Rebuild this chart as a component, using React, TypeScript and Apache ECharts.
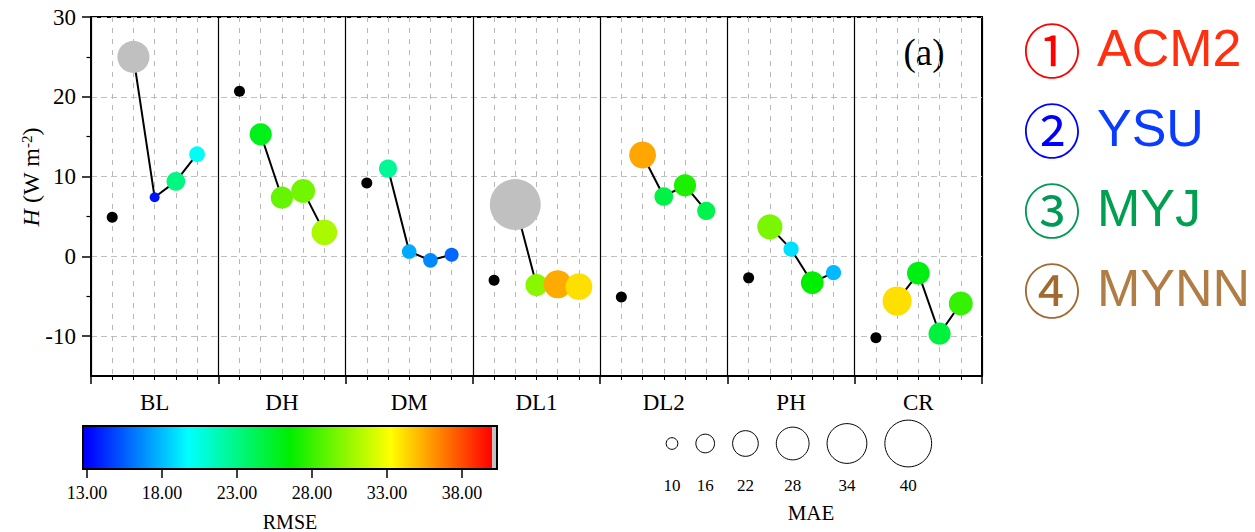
import React, { useEffect, useRef } from "react";
import * as echarts from "echarts";

// ---------------- data ----------------
const groups = ["BL", "DH", "DM", "DL1", "DL2", "PH", "CR"];
const schemes = ["ACM2", "YSU", "MYJ", "MYNN"];

// sensible heat flux H (W m-2)
const obsH = [4.9, 20.7, 9.2, -3.0, -5.1, -2.7, -10.2];
const acm2H = [25.0, 15.3, 11.0, 6.5, 12.7, 3.7, -5.6];
const ysuH = [7.4, 7.35, 0.6, -3.6, 7.5, 0.9, -2.1];
const myjH = [9.4, 8.2, -0.5, -3.5, 8.9, -3.3, -9.7];
const mynnH = [12.8, 3.0, 0.2, -3.8, 5.7, -2.05, -5.9];

// RMSE (colour)
const acm2RMSE = [41.0, 25.8, 22.5, 43.0, 35.6, 29.7, 34.1];
const ysuRMSE = [13.5, 29.2, 17.5, 30.1, 24.7, 18.9, 26.0];
const myjRMSE = [23.1, 29.5, 16.6, 35.5, 27.2, 26.5, 24.9];
const mynnRMSE = [20.0, 31.0, 15.7, 34.1, 24.5, 17.9, 27.9];

// MAE (size)
const acm2MAE = [27.4, 19.0, 15.5, 43.5, 23.0, 21.5, 25.0];
const ysuMAE = [8.5, 19.0, 12.5, 19.0, 16.0, 13.0, 19.5];
const myjMAE = [16.0, 20.5, 12.5, 24.0, 19.0, 19.5, 19.0];
const mynnMAE = [13.5, 22.0, 12.0, 23.0, 15.5, 13.0, 20.5];

const yTicks = [-10, 0, 10, 20, 30];
const yMinorTicks = [-5, 5, 15, 25];

const rmseTicks = [13, 18, 23, 28, 33, 38];
const rmseStops = [13, 19.75, 26.5, 33.25, 40];
const rmseColors = ["#0000ff", "#00ffff", "#00ee00", "#ffff00", "#ff0000"];
const rmseBarMin = 12.73;
const rmseBarMax = 40.33;
const rmseOverColor = "#c0c0c0";

const maeLegend = [10, 16, 22, 28, 34, 40];

const legendCircle = ["①", "②", "③", "④"];
const legendCircleColors = ["#ff0000", "#0000ff", "#009955", "#a06a30"];
const legendTextColors = ["#ff3010", "#0a3cff", "#00a050", "#b07d45"];

// ---------------- helpers ----------------
const SERIF = "'Liberation Serif', 'Times New Roman', serif";
const SANS = "'Liberation Sans', Arial, sans-serif";
const maeSize = (m: number) => 1.17 * m;
const groupWidth = 6;

export default function App() {
  const ref = useRef<HTMLDivElement>(null);

  useEffect(() => {
    const chart = echarts.init(ref.current!, null, { renderer: "svg" });

    const schemeH = [acm2H, ysuH, myjH, mynnH];
    const schemeR = [acm2RMSE, ysuRMSE, myjRMSE, mynnRMSE];
    const schemeM = [acm2MAE, ysuMAE, myjMAE, mynnMAE];

    const lineSeries = groups.map((_, g) => ({
      type: "line",
      xAxisIndex: 0,
      yAxisIndex: 0,
      data: schemes.map((_, s) => [g * groupWidth + 2 + s, schemeH[s][g]]),
      showSymbol: false,
      symbol: "none",
      lineStyle: { color: "#000", width: 2 },
      z: 3,
      silent: true,
    }));

    const obsData = groups.map((_, g) => [g * groupWidth + 1, obsH[g]]);
    const modelData: number[][] = [];
    groups.forEach((_, g) => {
      schemes.forEach((_, s) => {
        modelData.push([g * groupWidth + 2 + s, schemeH[s][g], schemeR[s][g], schemeM[s][g]]);
      });
    });

    const modelIdx = lineSeries.length + 1;

    // MAE size legend layout
    const legendGraphics: any[] = [];
    let cx = 672;
    const cy = 443.5;
    maeLegend.forEach((m, i) => {
      const r = maeSize(m) / 2;
      if (i > 0) cx += maeSize(maeLegend[i - 1]) / 2 + 18 + r;
      legendGraphics.push({
        type: "circle",
        shape: { cx, cy, r },
        style: { fill: "none", stroke: "#000", lineWidth: 1 },
      });
      legendGraphics.push({
        type: "text",
        x: cx,
        y: 485,
        style: {
          text: String(m),
          font: `17px ${SERIF}`,
          fill: "#000",
          align: "center",
          verticalAlign: "middle",
        },
      });
    });
    legendGraphics.push({
      type: "text",
      x: 811,
      y: 513,
      style: {
        text: "MAE",
        font: `21px ${SERIF}`,
        fill: "#000",
        align: "center",
        verticalAlign: "middle",
      },
    });

    // scheme legend
    schemes.forEach((name, i) => {
      legendGraphics.push({
        type: "text",
        x: 1023,
        y: 48 + i * 80,
        style: {
          text: `{c|${legendCircle[i]}}{t|${name}}`,
          verticalAlign: "middle",
          align: "left",
          rich: {
            c: {
              fontFamily: "'Noto Sans CJK SC', 'DejaVu Sans', sans-serif",
              fontSize: 58,
              fill: legendCircleColors[i],
              padding: [0, 16, 0, 0],
            },
            t: {
              fontFamily: SANS,
              fontSize: 52,
              fill: legendTextColors[i],
            },
          },
        },
      });
    });

    // y-axis title
    legendGraphics.push({
      type: "text",
      x: 31,
      y: 177,
      rotation: Math.PI / 2,
      style: {
        text: "{i|H}{n| (W m}{s|-2}{n|)}",
        align: "center",
        verticalAlign: "middle",
        rich: {
          i: { fontFamily: SERIF, fontSize: 24, fontStyle: "italic", fill: "#000" },
          n: { fontFamily: SERIF, fontSize: 24, fill: "#000" },
          s: { fontFamily: SERIF, fontSize: 15, fill: "#000", verticalAlign: "top", padding: [0, 0, 6, 0] },
        },
      },
    });

    // panel label
    legendGraphics.push({
      type: "text",
      x: 924,
      y: 52,
      style: {
        text: "(a)",
        font: `37px ${SERIF}`,
        fill: "#000",
        align: "center",
        verticalAlign: "middle",
      },
    });

    const option: any = {
      animation: false,
      backgroundColor: "#fff",
      textStyle: { fontFamily: SERIF },
      grid: [
        {
          left: 91,
          top: 17,
          width: 891,
          height: 359,
          show: true,
          borderColor: "#000",
          borderWidth: 2,
          backgroundColor: "transparent",
          containLabel: false,
          outerBoundsMode: "none",
        },
        {
          left: 83,
          top: 426,
          width: 414,
          height: 43,
          show: false,
          containLabel: false,
          outerBoundsMode: "none",
        },
      ],
      xAxis: [
        {
          type: "value",
          gridIndex: 0,
          position: "bottom",
          min: 0,
          max: groups.length * groupWidth,
          interval: groupWidth,
          axisLine: { show: true, onZero: false, lineStyle: { color: "#000", width: 2 } },
          axisTick: { show: true, inside: false, length: 8, lineStyle: { color: "#000", width: 1.5 } },
          minorTick: { show: true, splitNumber: groupWidth, length: 4, lineStyle: { color: "#000", width: 1 } },
          axisLabel: { show: false },
          splitLine: { show: true, lineStyle: { color: "#000", width: 1.2 } },
          minorSplitLine: { show: true, lineStyle: { color: "#b8b8b8", width: 1, type: [5, 6] } },
        },
        {
          type: "category",
          gridIndex: 0,
          position: "bottom",
          data: groups,
          boundaryGap: true,
          axisLine: { show: false, onZero: false },
          axisTick: { show: false },
          splitLine: { show: false },
          axisLabel: { show: true, fontFamily: SERIF, fontSize: 23, color: "#000", margin: 15 },
        },
        {
          type: "value",
          gridIndex: 1,
          position: "bottom",
          min: rmseBarMin,
          max: rmseBarMax,
          axisLine: { show: false, onZero: false },
          axisTick: {
            show: true,
            inside: false,
            length: 9,
            customValues: rmseTicks,
            lineStyle: { color: "#000", width: 1.5 },
          },
          axisLabel: {
            show: true,
            customValues: rmseTicks,
            formatter: (v: number) => v.toFixed(2),
            fontFamily: SERIF,
            fontSize: 18,
            color: "#000",
            margin: 15,
          },
          splitLine: { show: false },
          name: "RMSE",
          nameLocation: "middle",
          nameGap: 43,
          nameMoveOverlap: false,
          nameTextStyle: { fontFamily: SERIF, fontSize: 20, color: "#000" },
        },
      ],
      yAxis: [
        {
          type: "value",
          gridIndex: 0,
          position: "left",
          min: -15,
          max: 30,
          interval: 5,
          axisLine: { show: true, onZero: false, lineStyle: { color: "#000", width: 2 } },
          axisTick: {
            show: true,
            inside: false,
            length: 9,
            customValues: yTicks,
            lineStyle: { color: "#000", width: 1.5 },
          },
          axisLabel: {
            show: true,
            customValues: yTicks,
            fontFamily: SERIF,
            fontSize: 23,
            color: "#000",
            margin: 15,
          },
          splitLine: { show: true, lineStyle: { color: "#c0c0c0", width: 1, type: [6, 4] } },
        },
        {
          type: "value",
          gridIndex: 0,
          position: "left",
          min: -15,
          max: 30,
          interval: 5,
          axisLine: { show: false, onZero: false },
          axisTick: {
            show: true,
            inside: false,
            length: 4.5,
            customValues: yMinorTicks,
            lineStyle: { color: "#000", width: 1.2 },
          },
          axisLabel: { show: false },
          splitLine: { show: false },
        },
        {
          type: "value",
          gridIndex: 1,
          min: 0,
          max: 1,
          show: false,
        },
      ],
      visualMap: [
        {
          type: "continuous",
          show: false,
          min: rmseStops[0],
          max: rmseStops[rmseStops.length - 1],
          range: [rmseStops[0], rmseStops[rmseStops.length - 1] - 0.001],
          dimension: 2,
          seriesIndex: [modelIdx],
          inRange: { color: rmseColors },
          outOfRange: { color: rmseOverColor },
        },
      ],
      series: [
        ...lineSeries,
        {
          type: "scatter",
          name: "OBS",
          xAxisIndex: 0,
          yAxisIndex: 0,
          data: obsData,
          symbol: "circle",
          symbolSize: 11,
          itemStyle: { color: "#000", opacity: 1 },
          z: 4,
          silent: true,
        },
        {
          type: "scatter",
          name: "models",
          xAxisIndex: 0,
          yAxisIndex: 0,
          data: modelData,
          symbol: "circle",
          symbolSize: (v: number[]) => maeSize(v[3]),
          itemStyle: { opacity: 1 },
          z: 5,
          silent: true,
        },
        {
          type: "custom",
          xAxisIndex: 2,
          yAxisIndex: 2,
          data: [[rmseBarMin, rmseStops[rmseStops.length - 1], rmseBarMax]],
          silent: true,
          renderItem: (params: any, api: any) => {
            const x0 = api.value(0);
            const x1 = api.value(1);
            const x2 = api.value(2);
            const pTL = api.coord([x0, 1]);
            const pMid = api.coord([x1, 0]);
            const pEnd = api.coord([x2, 0]);
            const stops = rmseStops.map((v, i) => ({
              offset: Math.max(0, Math.min(1, (v - x0) / (x1 - x0))),
              color: rmseColors[i],
            }));
            stops.unshift({ offset: 0, color: rmseColors[0] });
            const grad = new echarts.graphic.LinearGradient(0, 0, 1, 0, stops);
            return {
              type: "group",
              children: [
                {
                  type: "rect",
                  shape: { x: pTL[0], y: pTL[1], width: pMid[0] - pTL[0], height: pMid[1] - pTL[1] },
                  style: { fill: grad },
                },
                {
                  type: "rect",
                  shape: { x: pMid[0], y: pTL[1], width: pEnd[0] - pMid[0], height: pEnd[1] - pTL[1] },
                  style: { fill: rmseOverColor },
                },
                {
                  type: "rect",
                  shape: { x: pTL[0], y: pTL[1], width: pEnd[0] - pTL[0], height: pEnd[1] - pTL[1] },
                  style: { fill: "none", stroke: "#000", lineWidth: 2 },
                },
              ],
            };
          },
        },
      ],
      graphic: legendGraphics,
    };

    chart.setOption(option);
    return () => chart.dispose();
  }, []);

  return (
    <div
      ref={ref}
      style={{ position: "fixed", left: 0, top: 0, width: 1255, height: 532 }}
    />
  );
}
